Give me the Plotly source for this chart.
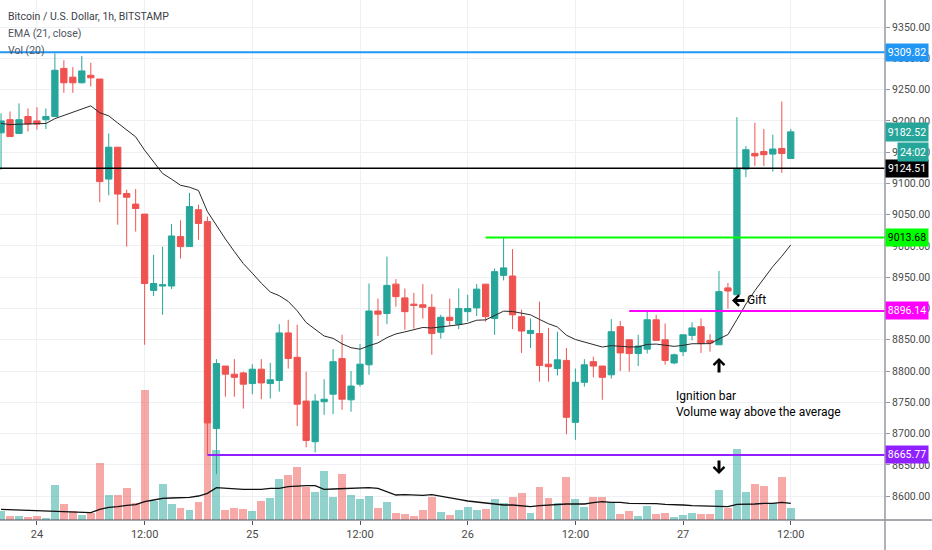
import pandas as pd
import plotly.graph_objects as go

# hourly BTC/USD candles, Bitstamp, starting 23 May 2020 20:00
start_time = "2020-05-23 20:00"

opens = [9181, 9202, 9180, 9207, 9200, 9202, 9207, 9284, 9270, 9261, 9273, 9267, 9107, 9158, 9084,
         9067, 9051, 8929, 8936, 8936, 9015, 8999, 9058, 9039, 8708, 8808, 8795, 8797, 8780, 8803,
         8780, 8785, 8861, 8822, 8752, 8687, 8751, 8763, 8820, 8754, 8779, 8810, 8896, 8892, 8939,
         8917, 8907, 8906, 8902, 8862, 8886, 8875, 8895, 8901, 8939, 8884, 8953, 8952, 8887, 8860,
         8860, 8811, 8804, 8817, 8718, 8782, 8815, 8808, 8794, 8871, 8850, 8828, 8835, 8882, 8850,
         8813, 8831, 8857, 8871, 8849, 8842, 8933, 8922, 9123, 9148, 9151, 9147, 9156, 9140]
highs = [9212, 9215, 9228, 9220, 9222, 9220, 9308, 9297, 9286, 9304, 9293, 9267, 9180, 9158, 9090,
         9091, 9051, 8986, 8999, 9035, 9041, 9085, 9066, 9047, 8819, 8808, 8819, 8799, 8811, 8819,
         8813, 8875, 8882, 8874, 8799, 8763, 8787, 8835, 8858, 8800, 8843, 8940, 8916, 8983, 8947,
         8932, 8925, 8939, 8923, 8890, 8916, 8932, 8922, 8939, 8939, 8964, 9013.68, 8995, 8898, 8884,
         8911, 8869, 8863, 8837, 8804, 8819, 8823, 8808, 8883, 8880, 8850, 8858, 8895, 8890, 8876,
         8828, 8858, 8878, 8884, 8859, 8960, 8941, 9206, 9160, 9197, 9187, 9178, 9231, 9187]
lows = [9122, 9175, 9180, 9183, 9186, 9187, 9207, 9245, 9245, 9260, 9255, 9070, 9081, 9034, 8999,
        9023, 8842, 8920, 8890, 8931, 8980, 8999, 9010, 8665.77, 8635, 8759, 8759, 8740, 8763, 8755,
        8756, 8767, 8804, 8712, 8678, 8670, 8730, 8731, 8738, 8735, 8775, 8794, 8856, 8875, 8903,
        8866, 8868, 8884, 8826, 8852, 8872, 8867, 8879, 8888, 8879, 8858, 8945, 8867, 8829, 8837,
        8783, 8783, 8793, 8699, 8690, 8775, 8790, 8754, 8788, 8800, 8799, 8808, 8828, 8849, 8810,
        8811, 8824, 8849, 8829, 8831, 8842, 8900, 8922, 9110, 9128, 9128, 9119, 9117, 9139]
closes = [9200, 9175, 9202, 9195, 9195, 9207, 9281, 9261, 9261, 9280, 9269, 9103, 9158, 9083, 9078,
          9060, 8940, 8940, 8938, 9016, 8999, 9063, 9036, 8717, 8812, 8795, 8790, 8779, 8803, 8781,
          8786, 8861, 8820, 8747, 8689, 8752, 8755, 8815, 8755, 8776, 8811, 8896, 8891, 8937, 8919,
          8895, 8905, 8902, 8860, 8886, 8881, 8900, 8900, 8931, 8887, 8959, 8965, 8890, 8864, 8865,
          8809, 8807, 8818, 8726, 8782, 8810, 8808, 8790, 8863, 8829, 8828, 8840, 8882, 8849, 8817,
          8826, 8858, 8869, 8844, 8845, 8927, 8928, 9123, 9154, 9144, 9146, 9155, 9148, 9182.52]
volumes = [93, 40, 40, 33, 40, 23, 350, 157, 90, 50, 67, 573, 247, 247, 323, 173, 1300, 193, 360,
           157, 123, 100, 183, 1017, 700, 100, 123, 110, 93, 193, 217, 410, 450, 533, 333, 277,
           493, 233, 460, 250, 207, 240, 123, 183, 67, 60, 40, 100, 227, 80, 50, 100, 133, 100,
           113, 207, 167, 227, 267, 73, 327, 217, 173, 433, 207, 133, 227, 233, 177, 57, 93, 40,
           143, 60, 73, 33, 47, 73, 60, 60, 300, 117, 710, 277, 360, 340, 167, 433, 117]
vol_ma20 = [107, 103, 100, 97, 93, 90, 87, 83, 80, 77, 73, 107, 127, 133, 147, 153, 183, 200, 217,
            220, 223, 227, 240, 267, 323, 317, 307, 307, 307, 307, 317, 317, 333, 340, 343, 343,
            307, 310, 313, 317, 320, 323, 317, 283, 250, 253, 247, 247, 253, 240, 227, 207, 190,
            180, 167, 160, 150, 150, 140, 133, 143, 150, 150, 160, 160, 160, 173, 183, 177, 177,
            167, 167, 167, 163, 157, 157, 150, 143, 140, 140, 140, 133, 157, 157, 160, 167, 167,
            177, 167]
ema_first = 9196
ema_len = 21

# drawn levels
level_values = [9309.82, 9124.51, 9013.68, 8896.14, 8665.77]
level_start = [0, 0, 54, 70, 23]
level_colors = ["#2196f3", "#000000", "#00ff00", "#ff00ff", "#9020ff"]
level_text = ["white", "white", "black", "white", "white"]
countdown = "24:02"

tick_times = ["2020-05-24 00:00", "2020-05-24 12:00", "2020-05-25 00:00", "2020-05-25 12:00",
              "2020-05-26 00:00", "2020-05-26 12:00", "2020-05-27 00:00", "2020-05-27 12:00"]
tick_text = ["24", "12:00", "25", "12:00", "26", "12:00", "27", "12:00"]

times = pd.date_range(start_time, periods=len(closes), freq="h")
x_lo = times[0] - pd.Timedelta(minutes=7)
x_hi = times[0] + pd.Timedelta(minutes=5910)

ema = [ema_first]
k = 2 / (ema_len + 1)
for c in closes[1:]:
    ema.append(ema[-1] + k * (c - ema[-1]))

up = "#26a69a"
down = "#ef5350"
vol_colors = ["rgba(38,166,154,0.5)" if c >= o else "rgba(239,83,80,0.5)" for o, c in zip(opens, closes)]
FONT = "Roboto, Liberation Sans, sans-serif"

fig = go.Figure()
fig.add_trace(go.Bar(x=times, y=volumes, marker_color=vol_colors, marker_line_width=0,
                     width=3600000 * 0.88, yaxis="y"))
fig.add_trace(go.Scatter(x=times, y=vol_ma20, mode="lines", line=dict(color="#111111", width=1.3),
                         yaxis="y"))
fig.add_trace(go.Candlestick(x=times, open=opens, high=highs, low=lows, close=closes,
                             increasing=dict(line=dict(color=up, width=1), fillcolor=up),
                             decreasing=dict(line=dict(color=down, width=1), fillcolor=down),
                             whiskerwidth=0, yaxis="y2"))
fig.add_trace(go.Scatter(x=times, y=ema, mode="lines", line=dict(color="#2a2a2a", width=1),
                         yaxis="y2"))

shapes = []
for v, s, col in zip(level_values, level_start, level_colors):
    shapes.append(dict(type="line", xref="x", yref="y2", x0=times[s] if s else x_lo, x1=x_hi,
                       y0=v, y1=v, line=dict(color=col, width=1.5 if col == "#000000" else 2)))
# axis frame lines that run past the plot area
shapes.append(dict(type="line", xref="paper", yref="paper", x0=0, x1=1.06, y0=0, y1=0,
                   line=dict(color="#50535e", width=1)))
shapes.append(dict(type="line", xref="paper", yref="paper", x0=1, x1=1, y0=-0.06, y1=1,
                   line=dict(color="#9598a1", width=1.5)))

ann = []
for v, col, tc in zip(level_values, level_colors, level_text):
    ann.append(dict(x=1, xref="paper", y=v, yref="y2", xanchor="left", text=f"{v:.2f}",
                    showarrow=False, bgcolor=col, width=40, height=15, borderpad=1,
                    font=dict(family=FONT, size=10.5, color=tc)))
ann.append(dict(x=1, xref="paper", y=closes[-1], yref="y2", xanchor="left", text=f"{closes[-1]:.2f}",
                showarrow=False, bgcolor=up, width=40, height=16, borderpad=1,
                font=dict(family=FONT, size=10.5, color="white")))
ann.append(dict(x=1, xref="paper", y=closes[-1], yref="y2", xanchor="left", xshift=12, yshift=-20,
                text=countdown, showarrow=False, bgcolor=up, width=28, height=16, borderpad=1,
                font=dict(family=FONT, size=10.5, color="white")))

legend_lines = [("Bitcoin / U.S. Dollar, 1h, BITSTAMP", 17, "#3b3e48"),
                ("EMA (21, close)", 34, "#50535e"), ("Vol (20)", 51, "#50535e")]
for txt, py, col in legend_lines:
    ann.append(dict(x=6 / 885, xref="paper", y=1 - py / 520, yref="paper", xanchor="left",
                    yanchor="middle", text=txt, showarrow=False,
                    font=dict(family=FONT, size=10.5, color=col)))

note_font = dict(family=FONT, size=12, color="black")
ann.append(dict(x=745 / 885, xref="paper", y=1 - 300 / 520, yref="paper", xanchor="left",
                yanchor="middle", text="Gift", showarrow=False, font=note_font))
ann.append(dict(x=674 / 885, xref="paper", y=1 - 387 / 520, yref="paper", xanchor="left",
                yanchor="top", align="left", text="Ignition bar<br>Volume way above the average",
                showarrow=False, font=note_font))
arrow = dict(xref="paper", yref="paper", text="", showarrow=True, arrowhead=4, arrowsize=0.7,
             arrowwidth=3, arrowcolor="black")
ann.append(dict(arrow, x=732 / 885, y=1 - 300.5 / 520, ax=14, ay=0))
ann.append(dict(arrow, x=719 / 885, y=1 - 358 / 520, ax=0, ay=16))
ann.append(dict(arrow, x=719 / 885, y=1 - 474 / 520, ax=0, ay=-15))

fig.update_layout(
    width=932, height=550, margin=dict(l=0, r=47, t=0, b=30),
    plot_bgcolor="white", paper_bgcolor="white", showlegend=False,
    bargap=0, boxgap=0, shapes=shapes, annotations=ann,
    xaxis=dict(type="date", range=[x_lo, x_hi], rangeslider=dict(visible=False),
               tickvals=tick_times, ticktext=tick_text, showgrid=True, gridcolor="#eef0f4",
               ticks="outside", ticklen=4, tickcolor="#50535e", showline=False, zeroline=False,
               tickfont=dict(family=FONT, size=11, color="#4a4a4a")),
    yaxis=dict(range=[0, 5200], visible=False, showgrid=False, fixedrange=True),
    yaxis2=dict(overlaying="y", side="right", range=[8561.8, 9393.4], dtick=50, tickformat=".2f",
                showgrid=True, gridcolor="#eef0f4", ticks="outside", ticklen=4, tickcolor="#9598a1",
                showline=False, zeroline=False, tickfont=dict(family=FONT, size=10.5, color="#4a4a4a")),
)

# page body has an 8px default margin; drop it so the figure sits at the window corner
fig.write_html("out.html", config={"displayModeBar": False},
               post_script="document.body.style.margin='0px';")
